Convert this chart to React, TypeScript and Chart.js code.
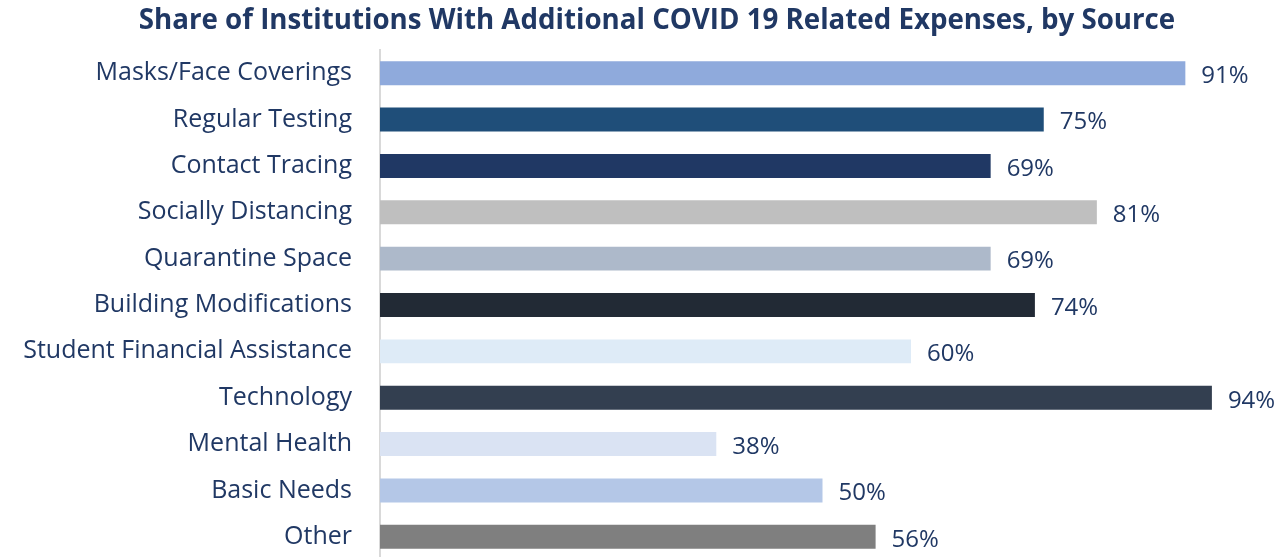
import React, { useEffect, useRef } from "react";
import { Chart, registerables } from "chart.js";

Chart.register(...registerables);

const categories = [
  "Masks/Face Coverings",
  "Regular Testing",
  "Contact Tracing",
  "Socially Distancing",
  "Quarantine Space",
  "Building Modifications",
  "Student Financial Assistance",
  "Technology",
  "Mental Health",
  "Basic Needs",
  "Other",
];
const values = [91, 75, 69, 81, 69, 74, 60, 94, 38, 50, 56];
const barColors = [
  "#8faadc",
  "#1f4e79",
  "#203864",
  "#bfbfbf",
  "#adb9ca",
  "#222a35",
  "#deebf7",
  "#333f50",
  "#dae3f3",
  "#b4c7e7",
  "#7f7f7f",
];
const titleText = "Share of Institutions With Additional COVID 19 Related Expenses, by Source";

const TEXT = "#203864";
const FONT = "'Open Sans', sans-serif";

const valueLabels = {
  id: "valueLabels",
  afterDatasetsDraw(chart: any) {
    const ctx = chart.ctx;
    const meta = chart.getDatasetMeta(0);
    ctx.save();
    ctx.fillStyle = TEXT;
    ctx.font = `24px ${FONT}`;
    ctx.textAlign = "left";
    ctx.textBaseline = "middle";
    meta.data.forEach((bar: any, i: number) => {
      ctx.fillText(values[i] + "%", bar.x + 16, bar.y + 3);
    });
    // title, centred slightly right of canvas centre like the reference
    ctx.font = `bold 27.7px ${FONT}`;
    ctx.textAlign = "center";
    ctx.fillText(titleText, 657, 21);
    ctx.restore();
  },
};

export default function App() {
  const ref = useRef<HTMLCanvasElement>(null);
  useEffect(() => {
    if (!ref.current) return;
    const chart = new Chart(ref.current, {
      type: "bar",
      data: {
        labels: categories,
        datasets: [
          {
            data: values,
            backgroundColor: barColors,
            barPercentage: 0.517,
            categoryPercentage: 1,
          },
        ],
      },
      options: {
        indexAxis: "y",
        animation: false,
        responsive: false,
        maintainAspectRatio: false,
        layout: { padding: { left: 0, right: 16, top: 0, bottom: 0 } },
        plugins: {
          legend: { display: false },
          tooltip: { enabled: false },
          title: {
            display: true,
            text: titleText,
            color: "rgba(0,0,0,0)",
            font: { family: FONT, size: 28, weight: "bold", lineHeight: 1.2 },
            padding: { top: 4, bottom: 12.4 },
          },
        },
        scales: {
          x: { display: false, min: 0, max: 100 },
          y: {
            afterFit(scale: any) {
              scale.width = 380;
            },
            grid: { display: false, drawTicks: false },
            border: { display: true, color: "#d9d9d9", width: 2 },
            ticks: {
              color: TEXT,
              padding: 28,
              font: { family: FONT, size: 25 },
            },
          },
        },
      },
      plugins: [valueLabels],
    });
    return () => chart.destroy();
  }, []);
  return (
    <div style={{ position: "fixed", left: 0, top: 0, width: 1281, height: 603, background: "#fff", overflow: "hidden" }}>
      <canvas ref={ref} width={1281} height={603} style={{ display: "block" }} />
    </div>
  );
}
